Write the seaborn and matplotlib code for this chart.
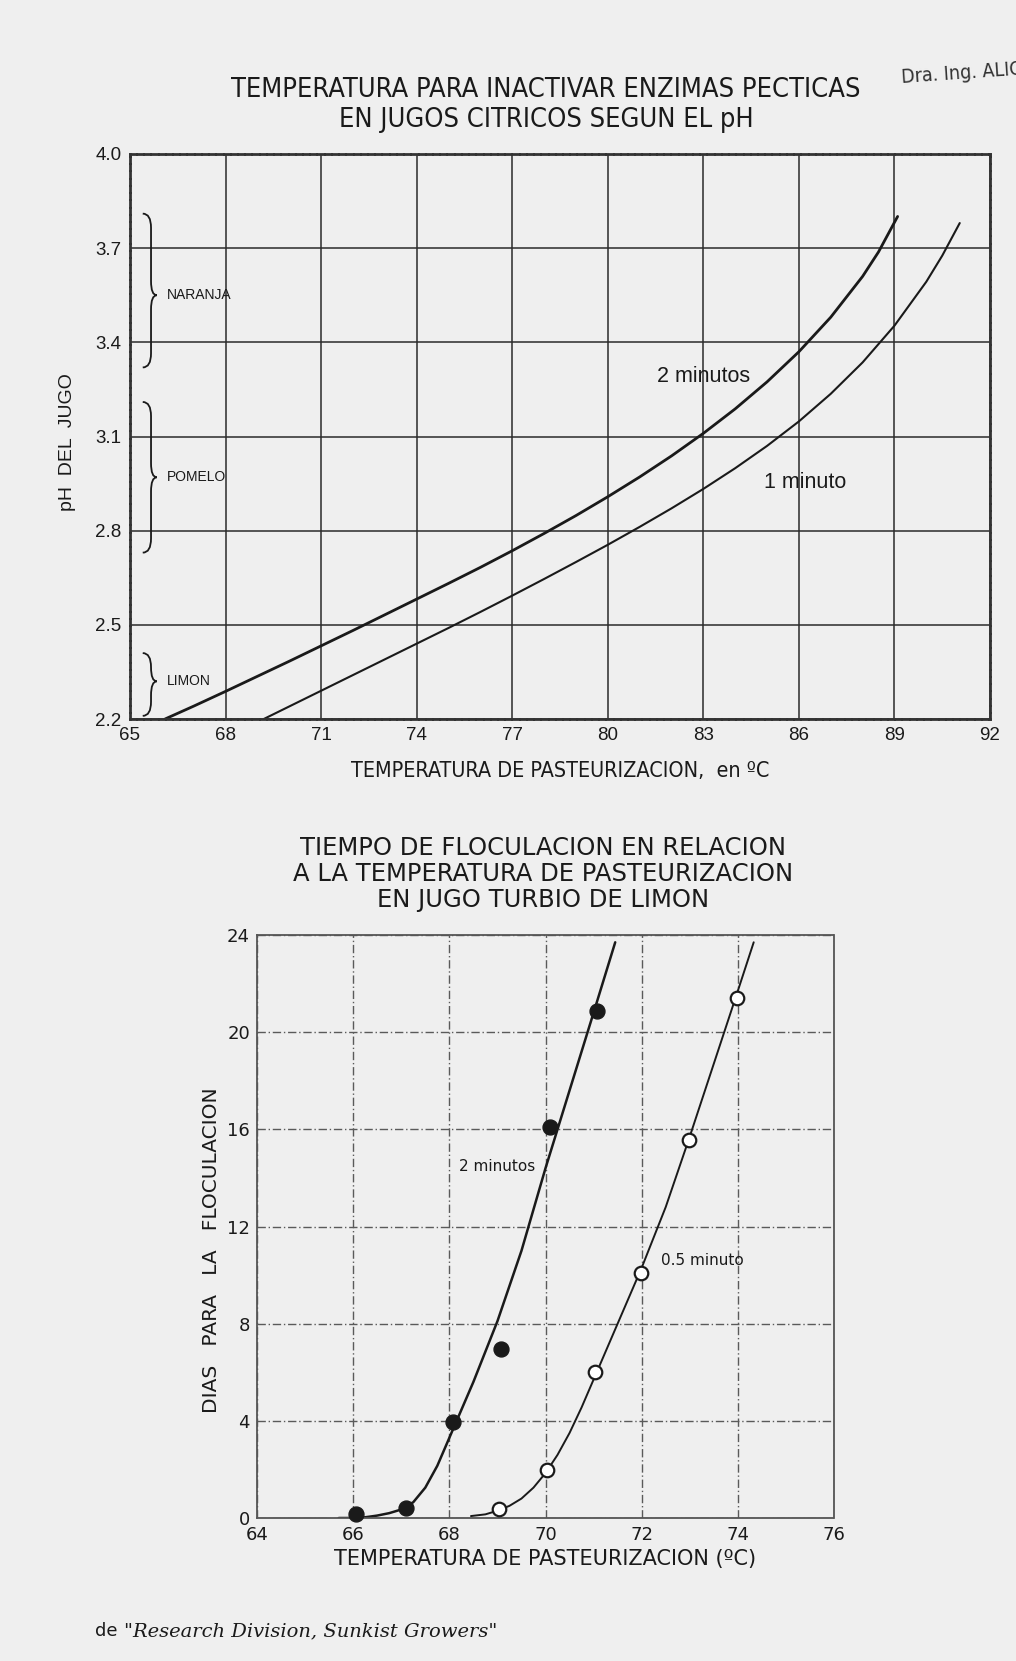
import numpy as np
import pandas as pd
import matplotlib
matplotlib.use("Agg")
import matplotlib.pyplot as plt
from matplotlib.path import Path
from matplotlib.patches import PathPatch
import seaborn as sns

# ---------------- data: top chart (pH vs temperature) ----------------
temp_2min = [66.1, 67, 68, 69, 70, 71, 72, 73, 74, 75, 76, 77, 78, 79, 80,
             81, 82, 83, 84, 85, 86, 87, 88, 88.5, 89.1]
ph_2min = [2.200, 2.241, 2.288, 2.336, 2.384, 2.433, 2.482, 2.532, 2.582,
           2.632, 2.683, 2.736, 2.791, 2.848, 2.908, 2.971, 3.038, 3.110,
           3.188, 3.274, 3.370, 3.480, 3.610, 3.688, 3.801]
temp_1min = [69.2, 70, 71, 72, 73, 74, 75, 76, 77, 78, 79, 80, 81, 82, 83,
             84, 85, 86, 87, 88, 89, 90, 90.5, 91.05]
ph_1min = [2.200, 2.240, 2.290, 2.340, 2.390, 2.440, 2.490, 2.541, 2.593,
           2.646, 2.700, 2.755, 2.812, 2.871, 2.933, 2.999, 3.070, 3.148,
           3.236, 3.336, 3.453, 3.593, 3.676, 3.780]
top_xticks = [65, 68, 71, 74, 77, 80, 83, 86, 89, 92]
top_yticks = [2.2, 2.5, 2.8, 3.1, 3.4, 3.7, 4.0]
fruit_names = ["NARANJA", "POMELO", "LIMON"]
fruit_top = [3.81, 3.21, 2.41]
fruit_mid = [3.55, 2.97, 2.32]
fruit_bot = [3.32, 2.73, 2.21]

# ---------------- data: bottom chart (days vs temperature) ----------------
pts_2min_t = [66.05, 67.09, 68.07, 69.07, 70.10, 71.08]
pts_2min_d = [0.15, 0.43, 3.94, 6.95, 16.1, 20.86]
pts_05min_t = [69.04, 70.04, 71.02, 71.99, 72.99, 73.98]
pts_05min_d = [0.35, 1.96, 6.0, 10.1, 15.55, 21.42]
fit_2min_t = [65.7, 66.0, 66.25, 66.5, 66.75, 67.0, 67.25, 67.5, 67.75, 68.0,
              68.25, 68.5, 68.75, 69.0, 69.5, 70.0, 70.5, 71.0, 71.45]
fit_2min_d = [0.0, 0.0, 0.03, 0.1, 0.2, 0.35, 0.65, 1.25, 2.15, 3.3,
              4.45, 5.6, 6.85, 8.1, 11.0, 14.4, 17.6, 20.8, 23.7]
fit_05min_t = [68.45, 68.75, 69.0, 69.25, 69.5, 69.75, 70.0, 70.25, 70.5,
               70.75, 71.0, 71.5, 72.0, 72.5, 73.0, 73.5, 74.0, 74.33]
fit_05min_d = [0.08, 0.15, 0.3, 0.5, 0.8, 1.25, 1.85, 2.6, 3.5,
               4.55, 5.7, 8.0, 10.3, 12.8, 15.7, 18.7, 21.7, 23.7]
bot_xticks = [64, 66, 68, 70, 72, 74, 76]
bot_yticks = [0, 4, 8, 12, 16, 20, 24]

# ---------------- styling ----------------
sns.set_theme(style="white")
plt.rcParams['font.family'] = ['DejaVu Sans']
BG = '#efefef'
INK = '#1a1a1a'

fig = plt.figure(figsize=(10.16, 16.61), dpi=100, facecolor=BG)

W, H = 1016, 1661
def rect(l, t, r, b):
    return [l / W, 1 - b / H, (r - l) / W, (b - t) / H]

# ======================= TOP CHART =======================
ax1 = fig.add_axes(rect(130, 154, 990, 719))
ax1.set_facecolor(BG)
df_a = pd.DataFrame({'t': temp_2min, 'ph': ph_2min})
df_b = pd.DataFrame({'t': temp_1min, 'ph': ph_1min})
sns.lineplot(data=df_a, x='t', y='ph', ax=ax1, color=INK, lw=2.0)
sns.lineplot(data=df_b, x='t', y='ph', ax=ax1, color=INK, lw=1.5)
ax1.set_xlim(65, 92)
ax1.set_ylim(2.2, 4.0)
ax1.set_xticks(top_xticks)
ax1.set_yticks(top_yticks)
ax1.set_xticklabels([str(v) for v in top_xticks], fontfamily='Liberation Sans', fontsize=13.5)
ax1.set_yticklabels([f"{v:.1f}" for v in top_yticks], fontfamily='Liberation Sans', fontsize=13.5)
ax1.tick_params(axis='both', length=0, pad=6, colors=INK)
ax1.grid(True, color='#2b2b2b', lw=1.1, ls='-')
for s in ax1.spines.values():
    s.set_color('#333333')
    s.set_linewidth(2.0)
    s.set_linestyle((0, (2, 0.6)))
ax1.set_xlabel("TEMPERATURA DE PASTEURIZACION,  en ºC", fontsize=15.5,
               fontstretch='condensed', color=INK, labelpad=12)
ax1.set_ylabel("pH  DEL  JUGO", fontfamily='Liberation Sans', fontsize=14,
               color=INK)
ax1.yaxis.set_label_coords(-0.063, 0.49)
ax1.text(83.0, 3.29, "2 minutos", fontfamily='Liberation Sans', fontsize=15.5,
         ha='center', va='center', color=INK)
ax1.text(86.2, 2.955, "1 minuto", fontfamily='Liberation Sans', fontsize=15.5,
         ha='center', va='center', color=INK)

# fruit braces
xl, xc, xt = 65.40, 65.66, 65.84
r = 0.045
for name, yt, ym, yb in zip(fruit_names, fruit_top, fruit_mid, fruit_bot):
    verts = [(xl, yt), (xc, yt), (xc, yt - r),
             (xc, ym + r),
             (xc, ym), (xt, ym),
             (xc, ym), (xc, ym - r),
             (xc, yb + r),
             (xc, yb), (xl, yb)]
    codes = [Path.MOVETO, Path.CURVE3, Path.CURVE3,
             Path.LINETO,
             Path.CURVE3, Path.CURVE3,
             Path.CURVE3, Path.CURVE3,
             Path.LINETO,
             Path.CURVE3, Path.CURVE3]
    ax1.add_patch(PathPatch(Path(verts, codes), fill=False, lw=1.3, ec=INK,
                            clip_on=False))
    ax1.text(66.15, ym, name, fontfamily='Liberation Sans', fontsize=10,
             ha='left', va='center', color=INK)

fig.text(546 / W, 1 - 90 / H, "TEMPERATURA PARA INACTIVAR ENZIMAS PECTICAS",
         ha='center', va='center', fontsize=19.5, fontstretch='condensed', color=INK)
fig.text(546 / W, 1 - 120 / H, "EN JUGOS CITRICOS SEGUN EL pH",
         ha='center', va='center', fontsize=19.5, fontstretch='condensed', color=INK)
fig.text(901 / W, 1 - 73 / H, "Dra. Ing. ALICIA", ha='left', va='center',
         fontsize=14, fontstretch='condensed', color='#333333', rotation=4)

# ======================= BOTTOM CHART =======================
ax2 = fig.add_axes(rect(257, 935, 834, 1518))
ax2.set_facecolor(BG)
df_f2 = pd.DataFrame({'t': fit_2min_t, 'd': fit_2min_d})
df_f05 = pd.DataFrame({'t': fit_05min_t, 'd': fit_05min_d})
sns.lineplot(data=df_f2, x='t', y='d', ax=ax2, color=INK, lw=1.8)
sns.lineplot(data=df_f05, x='t', y='d', ax=ax2, color=INK, lw=1.4)
sns.scatterplot(x=pts_2min_t, y=pts_2min_d, ax=ax2, s=115, color=INK,
                edgecolor=INK, linewidth=1, zorder=5, clip_on=False)
sns.scatterplot(x=pts_05min_t, y=pts_05min_d, ax=ax2, s=95, color='white',
                edgecolor=INK, linewidth=1.6, zorder=5, clip_on=False)
ax2.set_xlim(64, 76)
ax2.set_ylim(0, 24)
ax2.set_xticks(bot_xticks)
ax2.set_yticks(bot_yticks)
ax2.set_xticklabels([str(v) for v in bot_xticks], fontsize=13)
ax2.set_yticklabels([str(v) for v in bot_yticks], fontsize=13)
ax2.tick_params(axis='x', length=0, pad=6, colors=INK)
ax2.tick_params(axis='y', length=0, pad=5, colors=INK)
ax2.grid(True, color='#5a5a5a', lw=1.0, ls=(0, (6, 2, 1, 2)))
for s in ax2.spines.values():
    s.set_color('#555555')
    s.set_linewidth(1.3)
    s.set_linestyle((0, (1.5, 1)))
ax2.set_xlabel("TEMPERATURA DE PASTEURIZACION (ºC)", fontsize=15,
               color=INK, labelpad=3)
ax2.set_ylabel("DIAS   PARA   LA   FLOCULACION", fontsize=14.5, color=INK)
ax2.yaxis.set_label_coords(-0.062, 0.46)
ax2.text(69.0, 14.45, "2 minutos", fontsize=11, ha='center', va='center', color=INK)
ax2.text(73.26, 10.6, "0.5 minuto", fontsize=11, ha='center', va='center', color=INK)

for i, line in enumerate(["TIEMPO DE FLOCULACION EN RELACION",
                          "A LA TEMPERATURA DE PASTEURIZACION",
                          "EN JUGO TURBIO DE LIMON"]):
    fig.text(543 / W, 1 - (848 + 26 * i) / H, line, ha='center', va='center',
             fontsize=17.5, color=INK)

# footer
fig.text(95 / W, 1 - 1631 / H, "de", ha='left', va='center', fontsize=13,
         fontfamily='DejaVu Sans', color=INK)
fig.text(124 / W, 1 - 1631 / H, "\"Research Division, Sunkist Growers\"",
         ha='left', va='center', fontsize=14, fontfamily='DejaVu Serif',
         style='italic', color=INK)

fig.savefig("out.png", dpi=100, facecolor=BG)
